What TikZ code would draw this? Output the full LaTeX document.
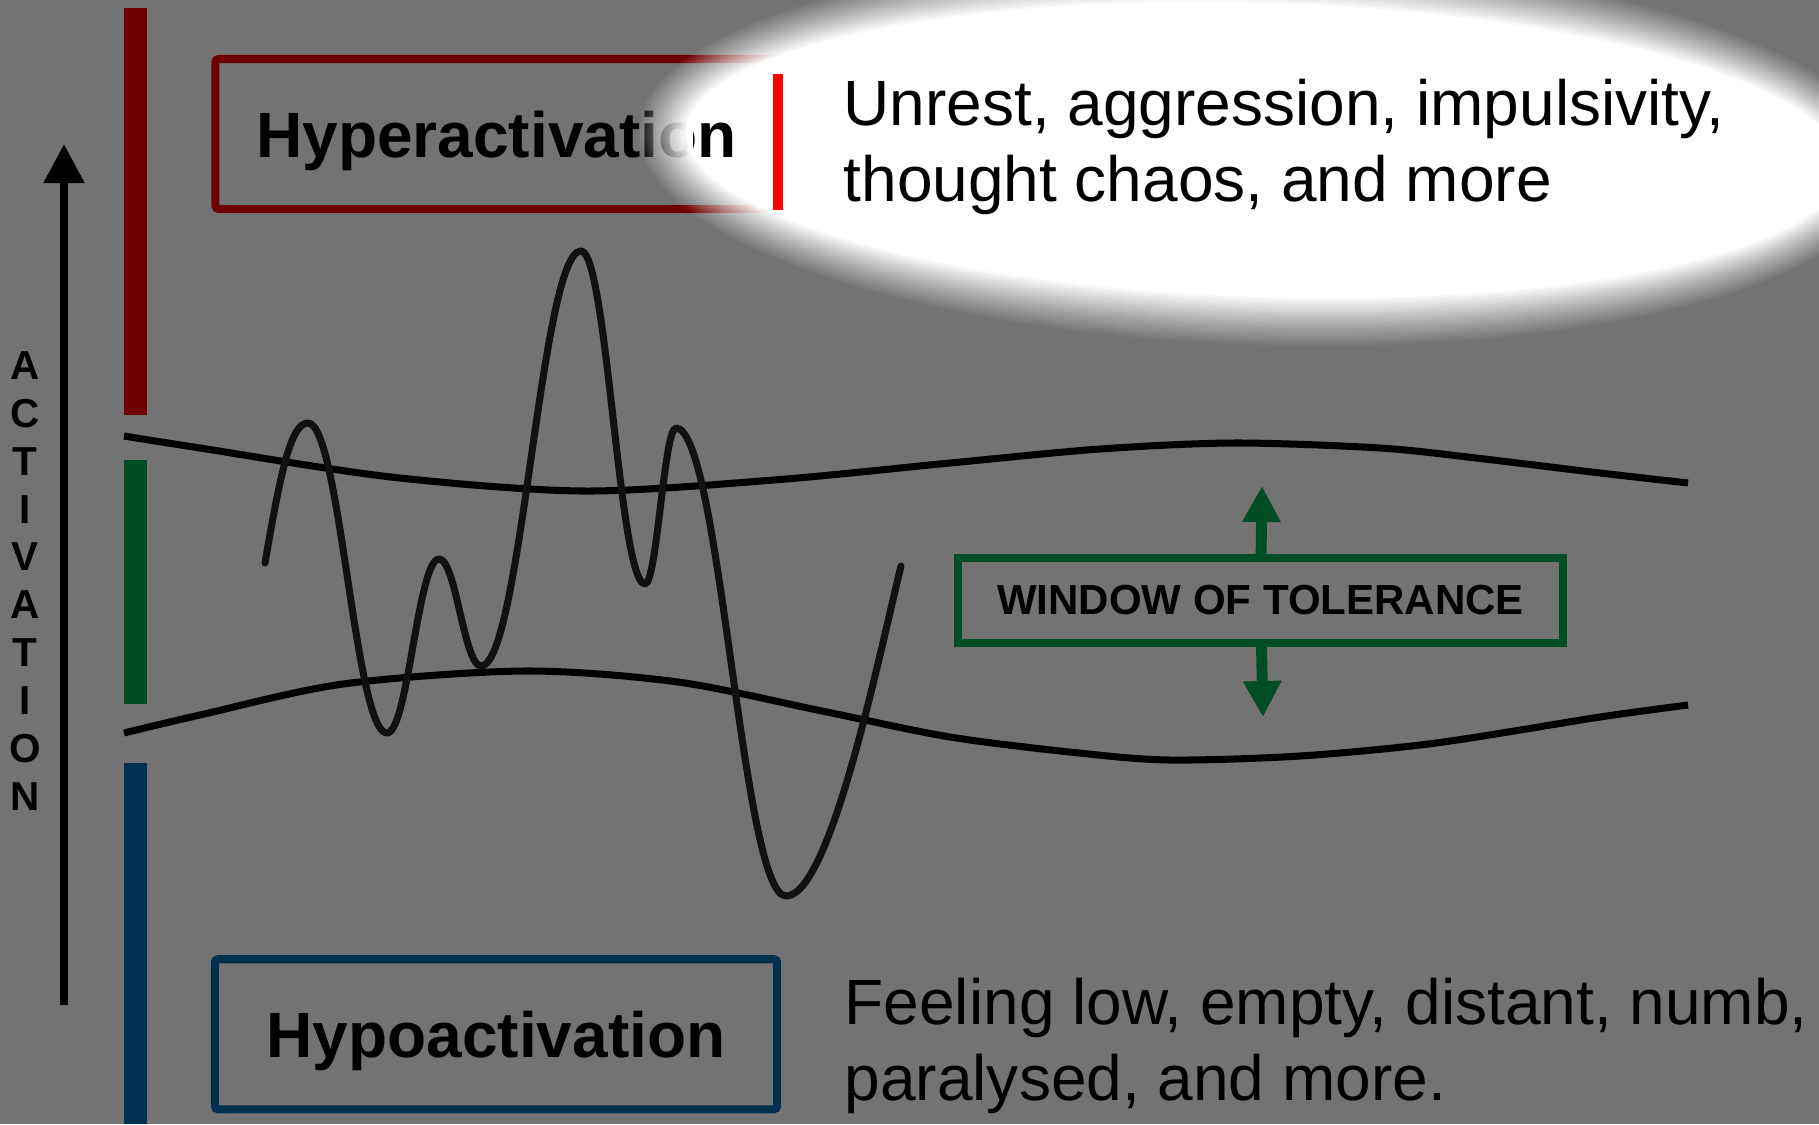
\documentclass[tikz,border=0pt]{standalone}
\usepackage{fontspec}
\setmainfont{Liberation Sans}
\usetikzlibrary{arrows.meta, positioning, shadows}
\definecolor{bggray}{RGB}{115,115,115}
\definecolor{hyperred}{RGB}{112,0,0}
\definecolor{tolgreen}{RGB}{0,77,38}
\definecolor{hyponavy}{RGB}{0,48,80}
\definecolor{wavegray}{RGB}{17,17,17}

\begin{document}
\begin{tikzpicture}[
    x=0.01cm, y=-0.01cm,
    statebox/.style={rectangle, draw, line width=2.3pt, fill=bggray, rounded corners=1pt, minimum width=5.62cm, minimum height=1.5cm, inner sep=0pt, text depth=0pt, font=\bfseries\fontsize{18.2pt}{21.6pt}\selectfont, drop shadow={shadow xshift=1.2pt, shadow yshift=-1.5pt, opacity=0.35}},
    boxlabel/.style={inner sep=0pt, text depth=0pt, font=\bfseries\fontsize{18.2pt}{21.6pt}\selectfont},
    desc/.style={anchor=north west, inner sep=0pt, align=left, font=\fontsize{18.2pt}{21.6pt}\selectfont},
    window/.style={rectangle, draw=tolgreen, line width=2.3pt, fill=bggray, minimum width=6.05cm, minimum height=0.85cm, inner sep=0pt, font=\bfseries\fontsize{11.95pt}{14pt}\selectfont},
    tolarrow/.style={draw=tolgreen, line width=3.1pt, -{Triangle[length=0.36cm, width=0.36cm]}},
    axisarrow/.style={draw=black, line width=2.3pt, -{Triangle[length=0.39cm, width=0.39cm]}},
    bound/.style={draw=black, line width=2pt},
    wave/.style={draw=wavegray, line width=2pt, line cap=round, line join=round}
]
\useasboundingbox (0,0) rectangle (1819,1124);
\clip (0,0) rectangle (1819,1124);
\fill[bggray] (0,0) rectangle (1819,1124);

% Activation bars
\fill[hyperred] (124,8) rectangle (147,415);
\fill[tolgreen] (124,460) rectangle (147,704);
\fill[hyponavy] (124,763) rectangle (147,1124);

% Nodes
\node[statebox, draw=hyperred] (hyper) at (496.5,134) {Hyperactivation};

% Glow
\foreach \k in {0,...,24} {
  \pgfmathsetmacro\ra{(602+24-2*\k)/100}
  \pgfmathsetmacro\rb{(171+24-2*\k)/100}
  \pgfmathsetmacro\op{1/(25-\k)}
  \fill[white, opacity=\op, rotate around={-1.8:(1264,150)}] (1264,150) ellipse [x radius=\ra cm, y radius=\rb cm];
}
\draw[red, line width=2.6pt] (778,74) -- (778,210);
\begin{scope}
  \clip (693,90) rectangle (770,170);
  \node[boxlabel] (hypertail) at (hyper.center) {Hyperactivation};
\end{scope}

\node[desc] (hyperdesc) at (843,78) {Unrest, aggression, impulsivity,\\thought chaos, and more};
\node[desc] (hypodesc) at (844,977) {Feeling low, empty, distant, numb,\\paralysed, and more.};

% Tolerance boundaries
\draw[bound] plot[smooth] coordinates {(124,436) (200,448) (391,477) (583,491) (774,480) (950,463) (1100,449) (1235,443) (1380,448) (1476,458) (1600,473) (1688,483)};
\draw[bound] plot[smooth] coordinates {(124,733) (200,715) (343,684) (525,671) (678,682) (822,711) (950,737) (1079,753) (1170,760) (1300,756) (1436,743) (1600,717) (1688,705)};

% Arousal wave
\draw[wave] (265,563) .. controls (281,470) and (291,423) .. (308,423)
  .. controls (340,423) and (355,733) .. (387,733)
  .. controls (408,733) and (418,559) .. (439,559)
  .. controls (456,559) and (464,666) .. (481,666)
  .. controls (521,666) and (541,251) .. (581,251)
  .. controls (607,251) and (619,584) .. (645,584)
  .. controls (657,584) and (664,428) .. (676,428)
  .. controls (720,428) and (742,896) .. (786,896)
  .. controls (830,896) and (878,660) .. (901,566);

\node[window] (window) at (1260.5,600.5) {WINDOW OF TOLERANCE};
\node[statebox, draw=hyponavy] (hypo) at (496,1034.25) {Hypoactivation};

\coordinate (uptip) at (1262,486);
\coordinate (downtip) at (1263,717);
\coordinate (axisfoot) at (64,1005);
\coordinate (axishead) at (64,144);
\node[font=\bfseries\fontsize{11.5pt}{13.63pt}\selectfont, align=center, inner sep=0pt] (activation) at (25,581) {A\\C\\T\\I\\V\\A\\T\\I\\O\\N};

% Connections
\draw[tolarrow] (window) -- (uptip);
\draw[tolarrow] (window) -- (downtip);
\draw[axisarrow] (axisfoot) -- (axishead);

\end{tikzpicture}
\end{document}
